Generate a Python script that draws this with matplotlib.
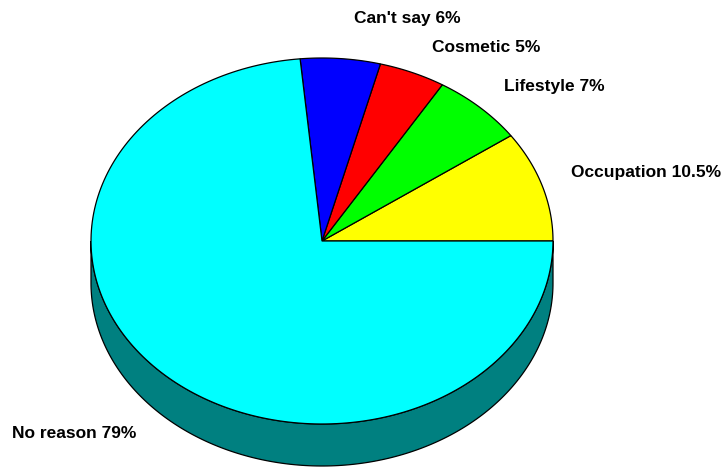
import numpy as np
import matplotlib
matplotlib.use("Agg")
import matplotlib.pyplot as plt
from matplotlib.patches import Polygon

# Data (percentages as labelled; they do not sum to 100)
categories = ["Occupation", "Lifestyle", "Cosmetic", "Can't say", "No reason"]
values = [10.5, 7, 5, 6, 79]
value_labels = ["10.5%", "7%", "5%", "6%", "79%"]
colors = ["#ffff00", "#00ff00", "#ff0000", "#0000ff", "#00ffff"]
side_color = "#008080"

# Layout (pixels)
cx, cy = 322, 241
rx, ry = 231, 183
depth = 42
label_pos = [(571, 172), (504, 87), (432, 47), (354, 18), (12, 433)]


def arc(t0, t1, dy=0, n=200):
    t = np.radians(np.linspace(t0, t1, n))
    return np.column_stack([cx + rx * np.cos(t), cy - ry * np.sin(t) + dy])


fig = plt.figure(figsize=(7.23, 4.68), dpi=100)
ax = fig.add_axes([0, 0, 1, 1])
ax.set_xlim(0, 723)
ax.set_ylim(468, 0)
ax.axis("off")

# side wall (front half of the disc)
side = np.vstack([arc(180, 360), arc(360, 180, dy=depth)])
ax.add_patch(Polygon(side, closed=True, facecolor=side_color,
                     edgecolor="black", lw=0.9))

# top wedges, counter-clockwise from 3 o'clock
angles = np.concatenate([[0], np.cumsum(values) / np.sum(values) * 360])
for i in range(len(values)):
    pts = np.vstack([[cx, cy], arc(angles[i], angles[i + 1])])
    ax.add_patch(Polygon(pts, closed=True, facecolor=colors[i],
                         edgecolor="black", lw=0.9))

for cat, lab, (x, y) in zip(categories, value_labels, label_pos):
    ax.text(x, y, f"{cat} {lab}", ha="left", va="center", fontsize=12.5,
            fontweight="bold", family=["Liberation Sans", "DejaVu Sans"])

fig.savefig("out.png", dpi=100)
